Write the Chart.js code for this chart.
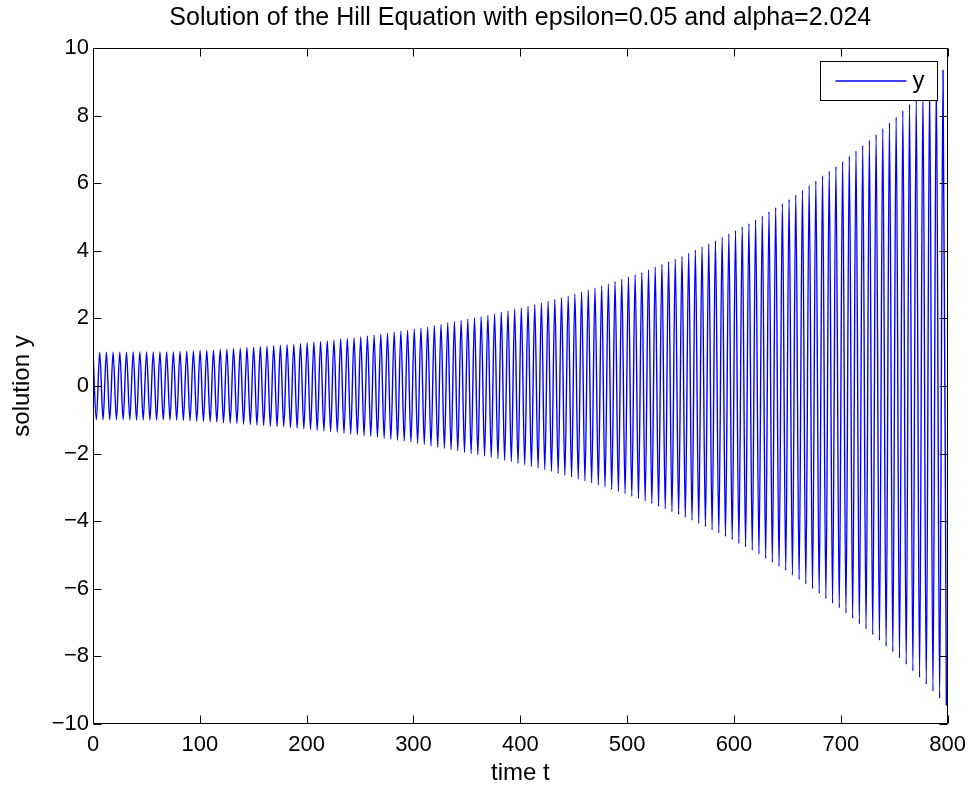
<!DOCTYPE html>
<html><head><meta charset="utf-8">
<script src="https://cdn.jsdelivr.net/npm/chart.js@4/dist/chart.umd.min.js"></script>
<style>html,body{margin:0;padding:0;background:#fff;}canvas{display:block;}</style>
</head><body>
<canvas id="c" width="974" height="791"></canvas>
<script>
const titleText = 'Solution of the Hill Equation with epsilon=0.05 and alpha=2.024';
const xTitle = 'time t';
const yTitle = 'solution y';
const seriesLabel = 'y';
const xTicks = [0, 100, 200, 300, 400, 500, 600, 700, 800];
const yTicks = [-10, -8, -6, -4, -2, 0, 2, 4, 6, 8, 10];

// local maxima (time, value)
const maxT = [
  0, 6.27, 12.53, 18.80, 25.06, 31.33, 37.59, 43.86,
  50.12, 56.39, 62.65, 68.92, 75.18, 81.45, 87.71, 93.98,
  100.24, 106.51, 112.77, 119.04, 125.30, 131.57, 137.83, 144.10,
  150.36, 156.63, 162.89, 169.16, 175.42, 181.69, 187.95, 194.22,
  200.48, 206.75, 213.01, 219.28, 225.54, 231.81, 238.07, 244.34,
  250.60, 256.87, 263.13, 269.40, 275.66, 281.93, 288.19, 294.46,
  300.72, 306.99, 313.25, 319.52, 325.78, 332.05, 338.31, 344.58,
  350.84, 357.11, 363.37, 369.64, 375.90, 382.17, 388.43, 394.70,
  400.96, 407.23, 413.49, 419.76, 426.02, 432.29, 438.55, 444.82,
  451.08, 457.35, 463.61, 469.88, 476.14, 482.41, 488.67, 494.94,
  501.20, 507.47, 513.73, 520.00, 526.26, 532.53, 538.79, 545.06,
  551.32, 557.59, 563.85, 570.12, 576.38, 582.65, 588.91, 595.18,
  601.44, 607.71, 613.97, 620.24, 626.50, 632.77, 639.03, 645.30,
  651.56, 657.83, 664.09, 670.36, 676.62, 682.89, 689.15, 695.42,
  701.68, 707.95, 714.21, 720.48, 726.74, 733.01, 739.27, 745.54,
  751.80, 758.07, 764.33, 770.60, 776.86, 783.13, 789.39, 795.66
];
const maxY = [
  1.00, 1.00, 1.00, 1.00, 1.00, 1.00, 1.01, 1.01,
  1.01, 1.01, 1.01, 1.01, 1.01, 1.02, 1.03, 1.04,
  1.05, 1.05, 1.06, 1.08, 1.09, 1.11, 1.12, 1.14,
  1.15, 1.17, 1.18, 1.19, 1.21, 1.22, 1.24, 1.26,
  1.28, 1.30, 1.32, 1.34, 1.36, 1.39, 1.41, 1.43,
  1.46, 1.48, 1.50, 1.53, 1.56, 1.59, 1.62, 1.65,
  1.68, 1.72, 1.75, 1.79, 1.83, 1.87, 1.90, 1.94,
  1.98, 2.01, 2.05, 2.09, 2.13, 2.18, 2.22, 2.27,
  2.31, 2.36, 2.41, 2.46, 2.51, 2.56, 2.61, 2.66,
  2.72, 2.78, 2.84, 2.90, 2.96, 3.02, 3.09, 3.16,
  3.23, 3.29, 3.36, 3.44, 3.52, 3.60, 3.68, 3.76,
  3.84, 3.93, 4.02, 4.12, 4.21, 4.30, 4.40, 4.50,
  4.60, 4.71, 4.81, 4.92, 5.03, 5.16, 5.28, 5.40,
  5.52, 5.66, 5.80, 5.93, 6.07, 6.22, 6.36, 6.50,
  6.65, 6.80, 6.96, 7.12, 7.27, 7.44, 7.62, 7.79,
  7.96, 8.15, 8.34, 8.53, 8.72, 8.93, 9.14, 9.34
];
// local minima (time, value)
const minT = [
  3.13, 9.40, 15.66, 21.93, 28.19, 34.46, 40.72, 46.99,
  53.25, 59.52, 65.78, 72.05, 78.31, 84.58, 90.84, 97.11,
  103.37, 109.64, 115.90, 122.17, 128.43, 134.70, 140.96, 147.23,
  153.49, 159.76, 166.02, 172.29, 178.55, 184.82, 191.08, 197.35,
  203.61, 209.88, 216.14, 222.41, 228.67, 234.94, 241.20, 247.47,
  253.73, 260.00, 266.26, 272.53, 278.79, 285.06, 291.32, 297.59,
  303.85, 310.12, 316.38, 322.65, 328.91, 335.18, 341.44, 347.71,
  353.97, 360.24, 366.50, 372.77, 379.03, 385.30, 391.56, 397.83,
  404.09, 410.36, 416.62, 422.89, 429.15, 435.42, 441.68, 447.95,
  454.21, 460.48, 466.74, 473.01, 479.27, 485.54, 491.80, 498.07,
  504.33, 510.60, 516.86, 523.13, 529.39, 535.66, 541.92, 548.19,
  554.45, 560.72, 566.98, 573.25, 579.51, 585.78, 592.04, 598.31,
  604.57, 610.84, 617.10, 623.37, 629.63, 635.90, 642.16, 648.43,
  654.69, 660.96, 667.22, 673.49, 679.75, 686.02, 692.28, 698.55,
  704.81, 711.08, 717.34, 723.61, 729.87, 736.14, 742.40, 748.67,
  754.93, 761.20, 767.46, 773.73, 779.99, 786.26, 792.52, 798.79
];
const minY = [
  -1.00, -1.00, -1.00, -1.00, -1.00, -1.00, -1.01, -1.01,
  -1.01, -1.01, -1.01, -1.01, -1.01, -1.02, -1.03, -1.04,
  -1.05, -1.06, -1.07, -1.09, -1.10, -1.11, -1.13, -1.14,
  -1.16, -1.17, -1.19, -1.20, -1.21, -1.23, -1.25, -1.27,
  -1.29, -1.31, -1.33, -1.35, -1.37, -1.40, -1.42, -1.44,
  -1.47, -1.49, -1.52, -1.55, -1.58, -1.61, -1.63, -1.66,
  -1.70, -1.73, -1.77, -1.81, -1.85, -1.89, -1.92, -1.96,
  -2.00, -2.03, -2.07, -2.11, -2.15, -2.20, -2.24, -2.29,
  -2.33, -2.38, -2.43, -2.48, -2.53, -2.58, -2.64, -2.69,
  -2.75, -2.81, -2.87, -2.93, -2.99, -3.06, -3.12, -3.19,
  -3.26, -3.33, -3.40, -3.48, -3.56, -3.64, -3.72, -3.80,
  -3.88, -3.97, -4.07, -4.16, -4.26, -4.35, -4.45, -4.55,
  -4.66, -4.76, -4.86, -4.97, -5.10, -5.22, -5.34, -5.46,
  -5.59, -5.73, -5.86, -6.00, -6.14, -6.29, -6.43, -6.57,
  -6.72, -6.88, -7.04, -7.19, -7.36, -7.53, -7.70, -7.87,
  -8.05, -8.24, -8.43, -8.62, -8.83, -9.03, -9.24, -9.45
];

const points = [];
for (let k = 0; k < maxT.length; k++) {
  points.push({ x: maxT[k], y: maxY[k] });
  if (k < minT.length) points.push({ x: minT[k], y: minY[k] });
}

const FONT = '"Liberation Sans", Arial, Helvetica, sans-serif';
Chart.defaults.font.family = FONT;
Chart.defaults.color = '#000';

const fmt = v => (v < 0 ? '\u2212' + Math.abs(v) : String(v));

const matlabAxes = {
  id: 'matlabAxes',
  afterDatasetsDraw(chart) {
    const { ctx, chartArea: ca, scales: { x, y } } = chart;
    const L = Math.round(ca.left) + 0.5, R = Math.round(ca.right) - 0.5;
    const T = Math.round(ca.top) + 0.5, B = Math.round(ca.bottom) - 0.5;
    const tl = 8;
    ctx.save();
    ctx.strokeStyle = '#000';
    ctx.lineWidth = 1;
    ctx.beginPath();
    ctx.rect(L, T, R - L, B - T);
    xTicks.forEach(v => {
      const px = Math.round(x.getPixelForValue(v)) + 0.5;
      ctx.moveTo(px, B); ctx.lineTo(px, B - tl);
      ctx.moveTo(px, T); ctx.lineTo(px, T + tl);
    });
    yTicks.forEach(v => {
      const py = Math.round(y.getPixelForValue(v)) + 0.5;
      ctx.moveTo(L, py); ctx.lineTo(L + tl, py);
      ctx.moveTo(R, py); ctx.lineTo(R - tl, py);
    });
    ctx.stroke();
    ctx.restore();
  },
  afterDraw(chart) {
    const { ctx, chartArea: ca } = chart;
    const ds = chart.data.datasets[0];
    const bx = Math.round(ca.right) - 128 + 0.5, by = Math.round(ca.top) + 13 + 0.5;
    const bw = 117, bh = 39;
    ctx.save();
    ctx.fillStyle = '#fff';
    ctx.strokeStyle = '#000';
    ctx.lineWidth = 1;
    ctx.fillRect(bx, by, bw, bh);
    ctx.strokeRect(bx, by, bw, bh);
    const ly = Math.round(by + bh / 2);
    ctx.strokeStyle = ds.borderColor;
    ctx.lineWidth = 1.4;
    ctx.beginPath();
    ctx.moveTo(bx + 15, ly); ctx.lineTo(bx + 86, ly);
    ctx.stroke();
    ctx.fillStyle = '#000';
    ctx.font = '24px ' + FONT;
    ctx.textAlign = 'left';
    ctx.textBaseline = 'middle';
    ctx.fillText(ds.label, bx + 92, by + bh / 2);
    ctx.restore();
  }
};

new Chart(document.getElementById('c'), {
  type: 'line',
  data: {
    datasets: [{
      label: seriesLabel,
      data: points,
      borderColor: '#0000ff',
      borderWidth: 1.4,
      pointRadius: 0,
      fill: false,
      cubicInterpolationMode: 'monotone'
    }]
  },
  options: {
    responsive: false,
    animation: false,
    events: [],
    layout: { padding: { left: 0, right: 25, top: 0, bottom: 0 }, autoPadding: false },
    plugins: {
      legend: { display: false },
      tooltip: { enabled: false },
      title: {
        display: true,
        fullSize: false,
        text: titleText,
        color: '#000',
        font: { size: 25, weight: 'normal', family: FONT },
        padding: { top: 3, bottom: 15 }
      }
    },
    scales: {
      x: {
        type: 'linear',
        min: 0, max: 800,
        grid: { display: false, drawTicks: false, tickLength: 0 },
        border: { display: false },
        afterBuildTicks: s => { s.ticks = xTicks.map(v => ({ value: v })); },
        afterFit: s => { s.height = 67; },
        ticks: { font: { size: 22 }, color: '#000', padding: 8, maxRotation: 0, callback: fmt },
        title: { display: true, text: xTitle, color: '#000', font: { size: 24 }, padding: { top: 0, bottom: 3.6 } }
      },
      y: {
        type: 'linear',
        min: -10, max: 10,
        grid: { display: false, drawTicks: false, tickLength: 0 },
        border: { display: false },
        afterBuildTicks: s => { s.ticks = yTicks.map(v => ({ value: v })); },
        afterFit: s => { s.width = 93; },
        ticks: { font: { size: 22 }, color: '#000', padding: 4, callback: fmt },
        title: { display: true, text: yTitle, color: '#000', font: { size: 24 }, padding: { top: 7.6, bottom: 0 } }
      }
    }
  },
  plugins: [matlabAxes]
});
</script>
</body></html>
